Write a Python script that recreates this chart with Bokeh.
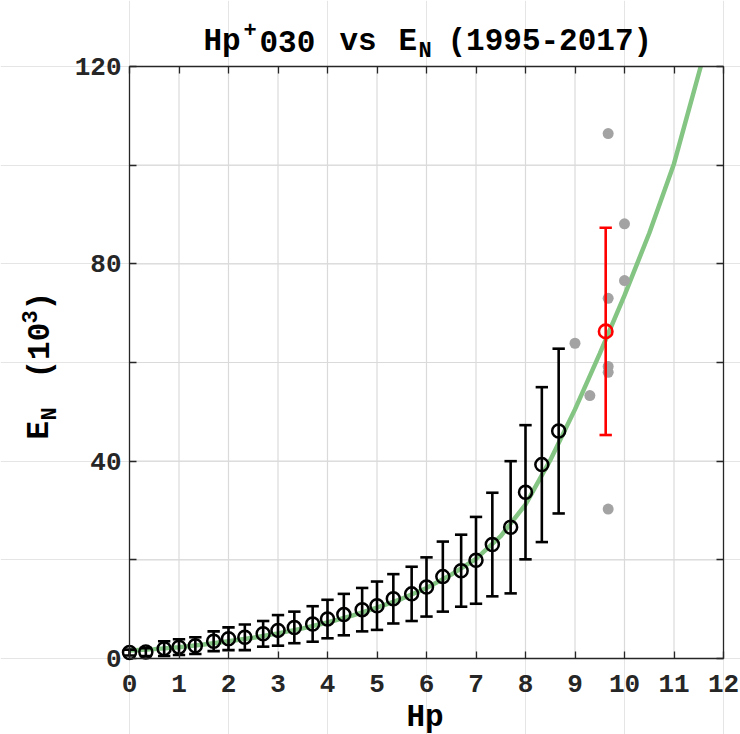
import math

from bokeh.embed import file_html
from bokeh.models import FixedTicker, Label, LinearAxis, Range1d
from bokeh.plotting import figure
from bokeh.resources import INLINE

# Binned Hp+030 levels with mean E_N (10^3) and its standard deviation
hp_bins = [0, 0.33, 0.7, 1, 1.33, 1.7, 2, 2.33, 2.7, 3, 3.33, 3.7, 4, 4.33,
           4.7, 5, 5.33, 5.7, 6, 6.33, 6.7, 7, 7.33, 7.7, 8, 8.33, 8.67]
en_mean = [1.2, 1.3, 2.0, 2.3, 2.6, 3.5, 4.0, 4.3, 5.0, 5.7, 6.3, 7.0, 8.0,
           8.9, 9.9, 10.7, 12.1, 13.1, 14.5, 16.6, 17.8, 19.9, 23.1, 26.6,
           33.7, 39.3, 46.1]
en_std = [0.6, 0.8, 1.5, 1.6, 1.7, 2.0, 2.3, 2.6, 2.6, 3.1, 3.2, 3.6, 3.9,
          4.2, 4.4, 4.9, 5.0, 5.5, 6.0, 7.1, 7.3, 8.8, 10.5, 13.4, 13.6,
          15.7, 16.7]

# Individual high-activity events (Hp >= 9)
event_hp = [9.0, 9.3, 9.67, 9.67, 9.67, 9.67, 9.67, 10.0, 10.0]
event_en = [63.9, 53.3, 106.4, 73.0, 59.2, 58.0, 30.3, 88.1, 76.6]

# Mean and spread of the high-activity events
event_mean_hp = [9.62]
event_mean_en = [66.3]
event_mean_std = [21.0]

# Fitted relation E_N(Hp)
fit_hp = [0, 0.5, 1, 1.5, 2, 2.5, 3, 3.5, 4, 4.5, 5, 5.5, 6, 6.5, 7, 7.5,
          8, 8.5, 9, 9.5, 10, 10.5, 11, 11.54]
fit_en = [1.6, 1.9, 2.3, 2.85, 3.5, 4.2, 5.1, 6.1, 7.3, 8.7, 10.3, 12.1, 14.3,
          17.0, 20.2, 24.8, 31.2, 40.2, 50.5, 61.8, 73.6, 86.2, 100.3, 120.0]

x_ticks = list(range(0, 13))
y_ticks = [0, 20, 40, 60, 80, 100, 120]
y_labelled = [0, 40, 80, 120]
y_unlabelled = [20, 60, 100]

FONT = "Liberation Mono"
INK = "#262626"
GRID = "#dadada"

# canvas and axes-box geometry (pixels)
W, H = 740, 734
LEFT, RIGHT, TOP, BOTTOM = 129, 17, 66, 76
X0, X1, Y0, Y1 = 0, 12, 0, 120

px_x = (W - LEFT - RIGHT) / (X1 - X0)
px_y = (H - TOP - BOTTOM) / (Y1 - Y0)
xr = Range1d(X0 - LEFT / px_x, X1 + RIGHT / px_x)
yr = Range1d(Y0 - BOTTOM / px_y, Y1 + TOP / px_y)

# the frame covers the whole canvas; the axes box sits inside it
p = figure(width=W, height=H, x_range=xr, y_range=yr,
           output_backend="svg", toolbar_location=None,
           x_axis_location=None, y_axis_location=None,
           min_border=0, min_border_left=0, min_border_right=0,
           min_border_top=0, min_border_bottom=0)
p.title.visible = False
p.outline_line_color = None
p.background_fill_color = "white"
p.border_fill_color = "white"


def dx(px):
    """canvas x pixel -> data x"""
    return xr.start + px / px_x


def dy(py):
    """canvas y pixel -> data y"""
    return yr.end - py / px_y


def make_axis(loc, bounds, ticks, minor=()):
    ax = LinearAxis(fixed_location=loc, bounds=bounds,
                    ticker=FixedTicker(ticks=ticks, minor_ticks=list(minor)))
    ax.axis_line_color = INK
    ax.axis_line_width = 1.3
    for kind in ("major", "minor"):
        setattr(ax, f"{kind}_tick_line_color", INK)
        setattr(ax, f"{kind}_tick_line_width", 1.3)
        setattr(ax, f"{kind}_tick_in", 7)
        setattr(ax, f"{kind}_tick_out", 0)
    ax.major_label_text_font = FONT
    ax.major_label_text_font_style = "bold"
    ax.major_label_text_color = INK
    ax.major_label_text_font_size = "26px"
    return ax


# grid lines inside the axes box
gx = x_ticks[1:-1]
gy = y_ticks[1:-1]
p.segment(gx, [Y0] * len(gx), gx, [Y1] * len(gx), line_color=GRID, line_width=1.2)
p.segment([X0] * len(gy), gy, [X1] * len(gy), gy, line_color=GRID, line_width=1.2)

xb = make_axis(Y0, (X0, X1), x_ticks)
xb.major_label_standoff = 16
yl = make_axis(X0, (Y0, Y1), y_labelled, y_unlabelled)
yl.major_label_standoff = 8
p.add_layout(xb, "below")
p.add_layout(yl, "left")
p.add_layout(make_axis(Y1, (X0, X1), [], x_ticks), "above")
p.add_layout(make_axis(X1, (Y0, Y1), [], y_ticks), "right")

# fit curve
p.line(fit_hp, fit_en, line_color="#84c584", line_width=4.5)

# individual events
p.scatter(event_hp, event_en, size=11, fill_color="#a3a3a3", line_color=None)

# binned means with error bars
cap = 0.125
lo = [m - s for m, s in zip(en_mean, en_std)]
hi = [m + s for m, s in zip(en_mean, en_std)]
p.segment(hp_bins, lo, hp_bins, hi, line_color="black", line_width=2.6)
p.segment([x - cap for x in hp_bins], hi, [x + cap for x in hp_bins], hi,
          line_color="black", line_width=2.6)
p.segment([x - cap for x in hp_bins], lo, [x + cap for x in hp_bins], lo,
          line_color="black", line_width=2.6)
p.scatter(hp_bins, en_mean, marker="circle", size=13, fill_color=None,
          line_color="black", line_width=2.5)

# mean of high-activity events
rlo = [m - s for m, s in zip(event_mean_en, event_mean_std)]
rhi = [m + s for m, s in zip(event_mean_en, event_mean_std)]
p.segment(event_mean_hp, rlo, event_mean_hp, rhi, line_color="#ff0000", line_width=2.6)
p.segment([x - cap for x in event_mean_hp], rhi, [x + cap for x in event_mean_hp], rhi,
          line_color="#ff0000", line_width=2.6)
p.segment([x - cap for x in event_mean_hp], rlo, [x + cap for x in event_mean_hp], rlo,
          line_color="#ff0000", line_width=2.6)
p.scatter(event_mean_hp, event_mean_en, marker="circle", size=13.5, fill_color=None,
          line_color="#ff0000", line_width=2.6)


def text(s, px, py, size, angle=0.0):
    p.add_layout(Label(x=dx(px), y=dy(py), text=s, angle=angle,
                       text_font=FONT, text_font_style="bold",
                       text_font_size=f"{size}px", text_color="black",
                       text_align="left", text_baseline="alphabetic"))


# title: Hp^+030 vs E_N (1995-2017)
TF, SF = 31, 22
text("Hp", 203, 41, TF)
text("+", 243, 29, SF)
text("030", 259, 41, TF)
text("vs", 339, 41, TF)
text("E", 398, 41, TF)
text("N", 418, 51, SF)
text("(1995-2017)", 447, 41, TF)

# x label
text("Hp", 406, 717, TF)

# y label: E_N (10^3), rotated
up = math.pi / 2
text("E", 39, 439, TF, up)
text("N", 50, 420, SF, up)
text("(10", 40, 378, TF, up)
text("3", 29, 323, SF, up)
text(")", 40, 310, TF, up)

open("out.html", "w").write(file_html(p, INLINE))
